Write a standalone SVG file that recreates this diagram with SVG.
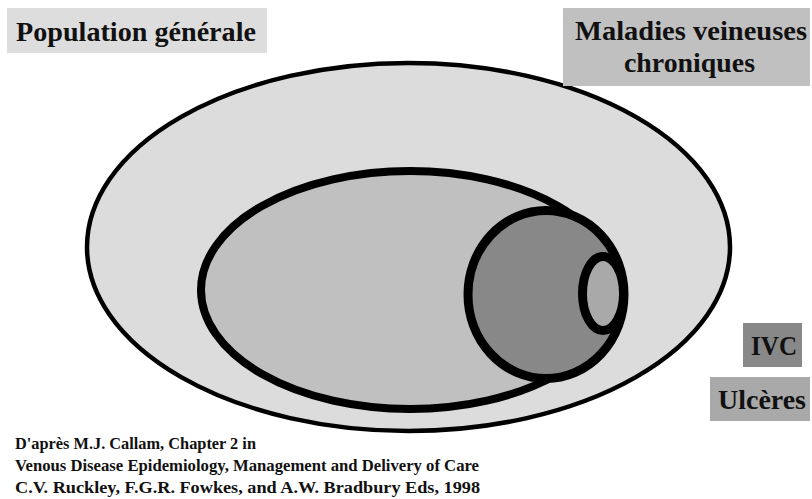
<svg xmlns="http://www.w3.org/2000/svg" width="812" height="499" viewBox="0 0 812 499">
<style>
text{fill:#111;font-weight:bold;font-family:"Liberation Serif","Times New Roman","DejaVu Serif",serif;}
.lbl{font-size:28px;}
.ref{font-size:16.5px;}
.set{stroke:#000;}
</style>
<rect width="812" height="499" fill="#fff"/>
<g id="population-generale">
<ellipse class="set" cx="408.5" cy="247" rx="321.5" ry="184" fill="#dcdcdc" stroke-width="4.5"/>
<rect x="7" y="8" width="260" height="45" fill="#dddddd"/>
<text class="lbl" x="16" y="41" textLength="240" lengthAdjust="spacingAndGlyphs">Population générale</text>
</g>
<g id="maladies-veineuses-chroniques">
<ellipse class="set" cx="410" cy="290" rx="209" ry="119" fill="#c0c0c0" stroke-width="8"/>
<rect x="563" y="8" width="247" height="78" fill="#c0c0c0"/>
<text class="lbl" x="575" y="40" textLength="232" lengthAdjust="spacingAndGlyphs">Maladies veineuses</text>
<text class="lbl" x="624" y="72" textLength="131" lengthAdjust="spacingAndGlyphs">chroniques</text>
</g>
<g id="ivc">
<ellipse class="set" cx="546" cy="294.5" rx="78" ry="84" fill="#888888" stroke-width="9"/>
<rect x="743" y="323" width="59" height="44" fill="#888888"/>
<text class="lbl" x="751" y="355" textLength="46" lengthAdjust="spacingAndGlyphs">IVC</text>
</g>
<g id="ulceres">
<ellipse class="set" cx="603" cy="293.5" rx="20.5" ry="37" fill="#a9a9a9" stroke-width="9"/>
<rect x="710" y="377" width="100" height="44" fill="#a9a9a9"/>
<text class="lbl" x="718" y="409" textLength="88" lengthAdjust="spacingAndGlyphs">Ulcères</text>
</g>
<g id="reference">
<text class="ref" x="15" y="449" textLength="241" lengthAdjust="spacingAndGlyphs">D'après M.J. Callam, Chapter 2 in</text>
<text class="ref" x="15" y="471" textLength="464" lengthAdjust="spacingAndGlyphs">Venous Disease Epidemiology, Management and Delivery of Care</text>
<text class="ref" x="15" y="493" textLength="465" lengthAdjust="spacingAndGlyphs">C.V. Ruckley, F.G.R. Fowkes, and A.W. Bradbury Eds, 1998</text>
</g>
</svg>
